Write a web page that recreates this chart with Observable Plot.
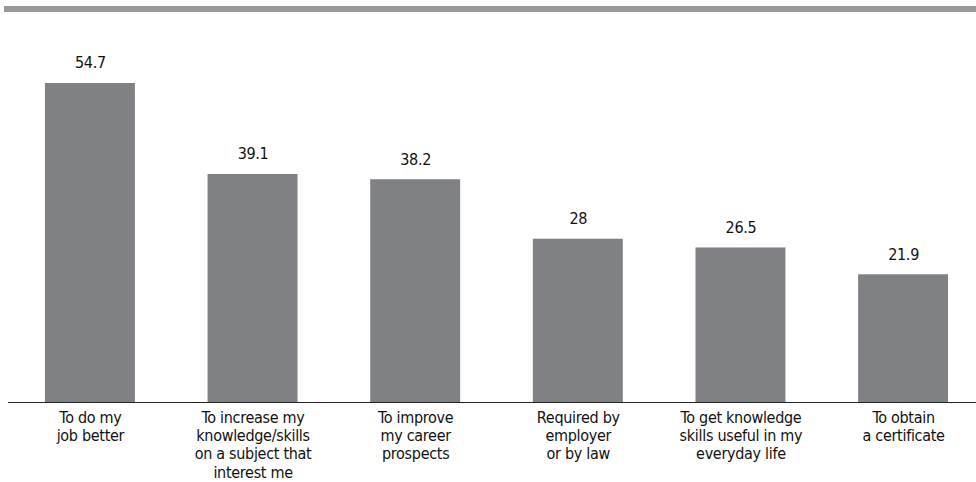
<!DOCTYPE html>
<html>
<head>
<meta charset="utf-8">
<script src="https://cdn.jsdelivr.net/npm/d3@7"></script>
<script src="https://cdn.jsdelivr.net/npm/@observablehq/plot@0.6"></script>
<style>
  html, body { margin: 0; padding: 0; background: #fff; }
  #wrap { position: relative; width: 976px; height: 482px; overflow: hidden; }
  #topbar { position: absolute; left: 4px; right: 0; top: 6px; height: 6px; background: #98999b; }
  #wrap svg text { letter-spacing: -0.3px; }
</style>
</head>
<body>
<div id="wrap"><div id="topbar"></div></div>
<script>
const categories = [
  "To do my\njob better",
  "To increase my\nknowledge/skills\non a subject that\ninterest me",
  "To improve\nmy career\nprospects",
  "Required by\nemployer\nor by law",
  "To get knowledge\nskills useful in my\neveryday life",
  "To obtain\na certificate"
];
const values = [54.7, 39.1, 38.2, 28, 26.5, 21.9];
const labels = ["54.7", "39.1", "38.2", "28", "26.5", "21.9"];

const data = categories.map((c, i) => ({category: c, value: values[i], label: labels[i]}));
const font = "'Liberation Sans Narrow', 'DejaVu Sans Condensed', 'Arial Narrow', sans-serif";

const chart = Plot.plot({
  width: 976,
  height: 482,
  marginLeft: 8,
  marginRight: 0,
  marginTop: 40,
  marginBottom: 80,
  style: {fontFamily: font, fontSize: "16px", background: "transparent", color: "#111"},
  x: {domain: categories, range: [8.6, 984.4], paddingInner: 0.447, paddingOuter: 0.2235, round: false, axis: null},
  y: {domain: [0, 60], range: [402, 402 - 60 * 5.832], axis: null},
  marks: [
    Plot.barY(data, {x: "category", y: "value", fill: "#808184"}),
    Plot.ruleY([0], {stroke: "#222", strokeWidth: 1.2}),
    Plot.text(data, {x: "category", y: "value", text: "label", lineAnchor: "bottom", dy: -15, fill: "#111", fontSize: 16}),
    Plot.text(data, {x: "category", y: 0, text: "category", lineAnchor: "top", dy: 7, lineHeight: 1.15, fill: "#111", fontSize: 16})
  ]
});
document.getElementById("wrap").prepend(chart);
</script>
</body>
</html>
